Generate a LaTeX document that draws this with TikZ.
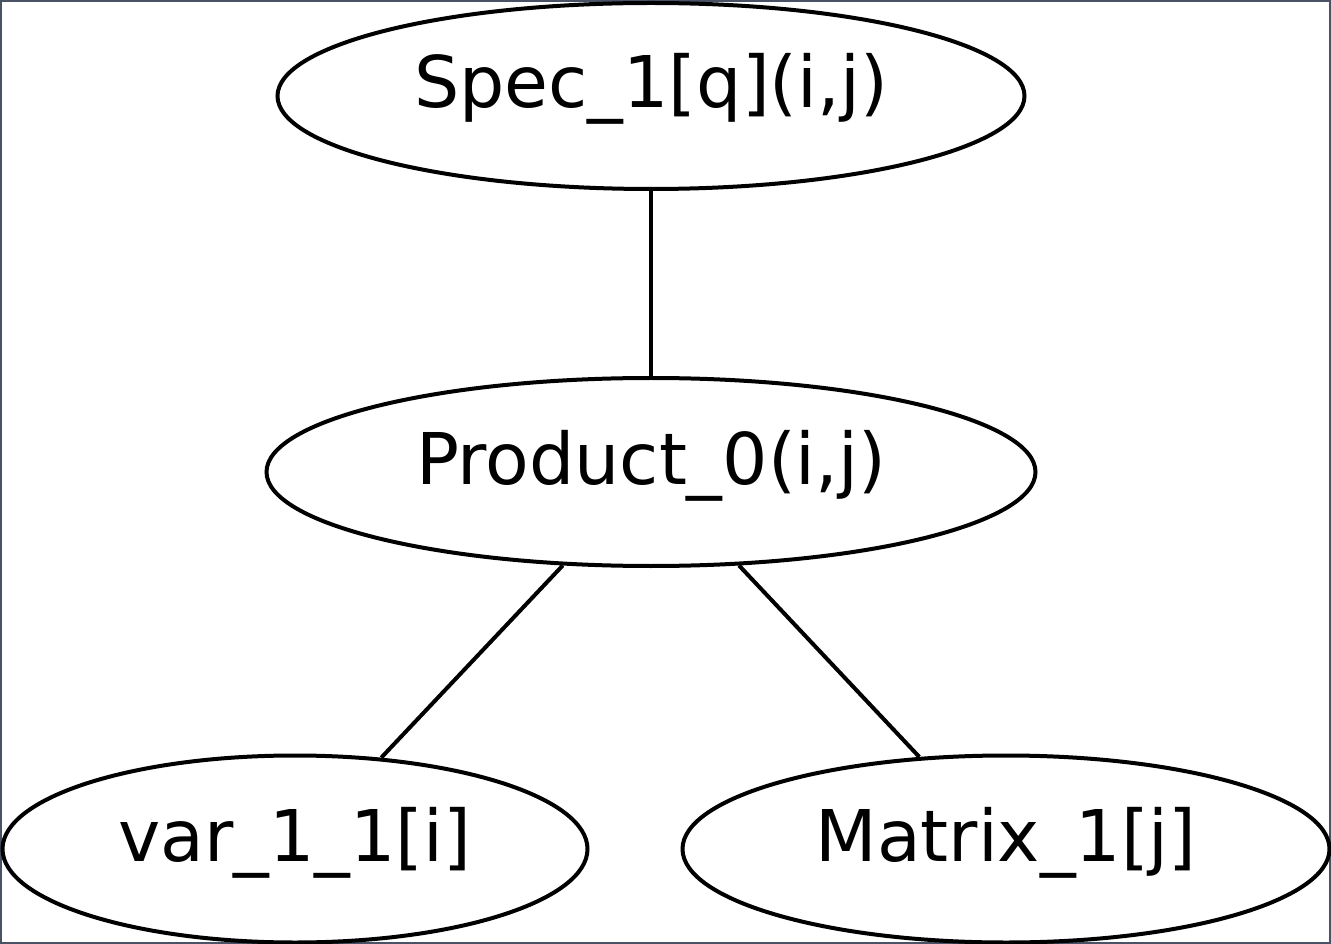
\documentclass[tikz,border=0pt]{standalone}
\usepackage{fontspec}
\setmainfont{DejaVu Sans}
\usepackage{xcolor}
\usepackage{tikz}
\usetikzlibrary{shapes.geometric}
\definecolor{framegray}{HTML}{4A5266}

\begin{document}
\begin{tikzpicture}[x=0.75pt,y=-0.75pt,
    treenode/.style={draw=black,line width=3pt,ellipse,inner sep=0pt,
      text height=40pt,text depth=22pt,
      font=\fontsize{53.5}{64}\selectfont},
    treeedge/.style={draw=black,line width=3pt}]
  \useasboundingbox (0,0) rectangle (1331,944);
  \draw[framegray,line width=1.5pt] (1,1) rectangle (1330,943);
  \node[treenode,minimum width=560.25pt,minimum height=139.5pt] (spec) at (651,96) {Spec\_1[q](i,j)};
  \node[treenode,minimum width=576.75pt,minimum height=141pt] (prod) at (651,472) {Product\_0(i,j)};
  \node[treenode,minimum width=438.75pt,minimum height=140.25pt] (var) at (295,849) {var\_1\_1[i]};
  \node[treenode,minimum width=485.25pt,minimum height=140.25pt] (mat) at (1006,849) {Matrix\_1[j]};
  \draw[treeedge] (spec) -- (prod);
  \draw[treeedge] (prod) -- (var);
  \draw[treeedge] (prod) -- (mat);
\end{tikzpicture}
\end{document}
